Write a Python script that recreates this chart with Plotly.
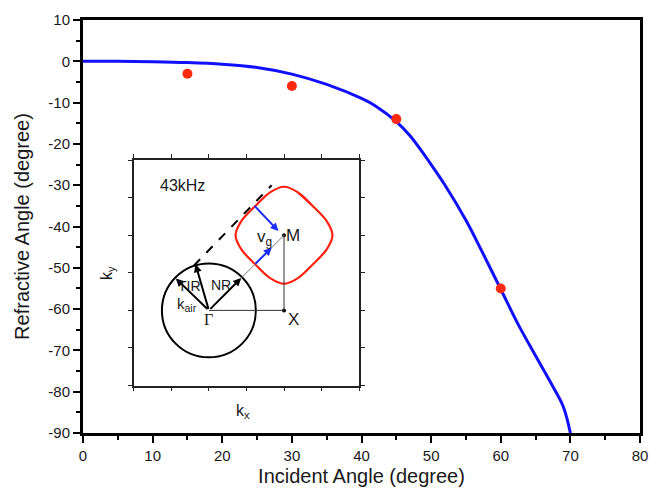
import plotly.graph_objects as go

# ---- main chart data ----
incident = [0, 5, 10, 15, 20, 25, 30, 35, 40, 42, 45, 47, 50, 52, 55, 57.2, 60, 62.5, 65, 67.5, 69, 70]
refractive = [0, 0, -0.1, -0.3, -0.7, -1.5, -3.1, -5.6, -9.0, -10.8, -14.6, -18.1, -25.0, -30.0,
              -38.5, -45.7, -55.2, -63.7, -71.3, -78.8, -83.7, -90]
exp_incident = [15, 30, 45, 60]
exp_refractive = [-3, -6, -14, -55]

x_ticks = [0, 10, 20, 30, 40, 50, 60, 70, 80]
x_ticktext = ["0", "10", "20", "30", "40", "50", "60", "70", "80"]
y_ticks = [10, 0, -10, -20, -30, -40, -50, -60, -70, -80, -90]
y_ticktext = ["10", "0", "-10", "-20", "-30", "-40", "-50", "-60", "-70", "-80", "-90"]

# ---- inset (EFC diagram) data, inset units 0..6 ----
gamma_pt = [2, 2]
x_pt = [4, 2]
m_pt = [4, 4]
air_radius = 1.25
kair_tip = [1.12, 2.85]
tir_tip = [1.645, 3.23]
nr_tip = [2.86, 2.86]
dash_start = [1.6, 3.19]
dash_end = [3.67, 5.33]
vg_diag_start = [3.2, 3.2]
vg_diag_end = [3.67, 3.67]
vg_start = [3.18, 4.82]
vg_end = [3.85, 4.11]
efc_x = [4.77, 4.37, 4.0, 3.63, 3.23, 2.86, 2.71, 2.86, 3.23, 3.63, 4.0, 4.37, 4.77, 5.14, 5.29, 5.14, 4.77, 4.37]
efc_y = [4.77, 5.14, 5.29, 5.14, 4.77, 4.37, 4.0, 3.63, 3.23, 2.86, 2.71, 2.86, 3.23, 3.63, 4.0, 4.37, 4.77, 5.14]

FONT = "Liberation Sans, Arial, Helvetica, sans-serif"
TXT = "#1a1a1a"

fig = go.Figure()

fig.add_trace(go.Scatter(x=incident, y=refractive, mode="lines",
                         line=dict(color="#1010ff", width=3, shape="spline", smoothing=1.0),
                         showlegend=False, hoverinfo="skip"))
fig.add_trace(go.Scatter(x=exp_incident, y=exp_refractive, mode="markers",
                         marker=dict(color="#ff2a10", size=10),
                         showlegend=False, hoverinfo="skip"))

# inset traces
fig.add_trace(go.Scatter(x=efc_x, y=efc_y, xaxis="x2", yaxis="y2", mode="lines",
                         line=dict(color="#ff2010", width=2.2, shape="spline", smoothing=1.0),
                         showlegend=False, hoverinfo="skip"))
fig.add_trace(go.Scatter(x=[x_pt[0], m_pt[0]], y=[x_pt[1], m_pt[1]], xaxis="x2", yaxis="y2",
                         mode="markers", marker=dict(color="black", size=4),
                         showlegend=False, hoverinfo="skip"))

shapes = []
# air circle
shapes.append(dict(type="circle", xref="x2", yref="y2",
                   x0=gamma_pt[0] - air_radius, y0=gamma_pt[1] - air_radius,
                   x1=gamma_pt[0] + air_radius, y1=gamma_pt[1] + air_radius,
                   line=dict(color="black", width=2)))
# thin lines
shapes.append(dict(type="line", xref="x2", yref="y2", x0=gamma_pt[0], y0=gamma_pt[1],
                   x1=x_pt[0], y1=x_pt[1], line=dict(color="#333", width=1)))
shapes.append(dict(type="line", xref="x2", yref="y2", x0=x_pt[0], y0=x_pt[1],
                   x1=m_pt[0], y1=m_pt[1], line=dict(color="#333", width=1)))
shapes.append(dict(type="line", xref="x2", yref="y2", x0=nr_tip[0], y0=nr_tip[1],
                   x1=m_pt[0], y1=m_pt[1], line=dict(color="#777", width=1)))
# dashed tangent
shapes.append(dict(type="line", xref="x2", yref="y2", x0=dash_start[0], y0=dash_start[1],
                   x1=dash_end[0], y1=dash_end[1], line=dict(color="black", width=2, dash="dash")))

annotations = []


def arrow(tail, tip, color, width=2):
    annotations.append(dict(xref="x2", yref="y2", axref="x2", ayref="y2",
                            x=tip[0], y=tip[1], ax=tail[0], ay=tail[1], text="",
                            showarrow=True, arrowhead=2, arrowsize=0.8, arrowwidth=width,
                            arrowcolor=color, standoff=0, startstandoff=0))


arrow(gamma_pt, kair_tip, "black")
arrow(gamma_pt, tir_tip, "black")
arrow(gamma_pt, nr_tip, "black")
arrow(vg_diag_start, vg_diag_end, "#1a2cff")
arrow(vg_start, vg_end, "#1a2cff")


def label(x, y, text, size=13, family=FONT, ref="x2"):
    annotations.append(dict(xref=ref, yref=ref.replace("x", "y"), x=x, y=y, text=text,
                            xanchor="center", yanchor="middle", showarrow=False,
                            font=dict(family=family, size=size, color=TXT)))


label(1.31, 5.33, "43kHz", 16)
label(4.24, 4.0, "M", 17)
label(4.24, 1.76, "X", 17)
label(1.98, 1.77, "Γ", 16, family="Liberation Serif, DejaVu Serif, serif")
label(1.43, 2.17, "k<sub>air</sub>", 15)
label(1.48, 2.64, "TIR", 14)
label(2.31, 2.67, "NR", 14)
label(3.48, 3.93, "v<sub>g</sub>", 17)

annotations.append(dict(xref="paper", yref="paper", x=0.0428, y=0.387, text="k<sub>y</sub>",
                        textangle=-90, xanchor="center", yanchor="middle", showarrow=False,
                        font=dict(family=FONT, size=16, color=TXT)))
annotations.append(dict(xref="paper", yref="paper", x=0.287, y=0.051, text="k<sub>x</sub>",
                        xanchor="center", yanchor="middle", showarrow=False,
                        font=dict(family=FONT, size=16, color=TXT)))

fig.update_layout(
    width=650, height=489,
    margin=dict(l=83, r=10, t=20, b=56),
    paper_bgcolor="white", plot_bgcolor="white",
    font=dict(family=FONT, color=TXT),
    shapes=shapes, annotations=annotations,
    xaxis=dict(range=[0, 80], tickvals=x_ticks, ticktext=x_ticktext, automargin=False,
               ticks="outside", ticklen=7, tickwidth=2, tickcolor="black",
               minor=dict(dtick=5, ticks="outside", ticklen=4, tickwidth=2, tickcolor="black"),
               showline=True, linewidth=3, linecolor="black", mirror=True,
               showgrid=False, zeroline=False, tickfont=dict(size=15, color=TXT),
               title=dict(text="Incident Angle (degree)", font=dict(size=20, color=TXT), standoff=6)),
    yaxis=dict(range=[-90, 10], tickvals=y_ticks, ticktext=y_ticktext, automargin=False,
               ticks="outside", ticklen=7, tickwidth=2, tickcolor="black",
               minor=dict(dtick=5, ticks="outside", ticklen=4, tickwidth=2, tickcolor="black"),
               showline=True, linewidth=3, linecolor="black", mirror=True,
               showgrid=False, zeroline=False, tickfont=dict(size=15, color=TXT),
               title=dict(text="Refractive Angle (degree)", font=dict(size=20, color=TXT), standoff=14)),
    xaxis2=dict(domain=[0.0911, 0.4958], anchor="y2", range=[0, 6], dtick=1,
                ticks="outside", ticklen=4, tickwidth=1, tickcolor="#222",
                showline=True, linewidth=1.5, linecolor="#222", mirror="ticks",
                showticklabels=False, showgrid=False, zeroline=False, fixedrange=True),
    yaxis2=dict(domain=[0.1149, 0.6608], anchor="x2", range=[0, 6], dtick=1,
                ticks="outside", ticklen=4, tickwidth=1, tickcolor="#222",
                showline=True, linewidth=1.5, linecolor="#222", mirror="ticks",
                showticklabels=False, showgrid=False, zeroline=False, fixedrange=True),
)

fig.write_html("out.html", config={"displayModeBar": False},
               post_script="document.body.style.margin='0px';document.body.style.padding='0px';"
                           "document.body.style.overflow='hidden';")
